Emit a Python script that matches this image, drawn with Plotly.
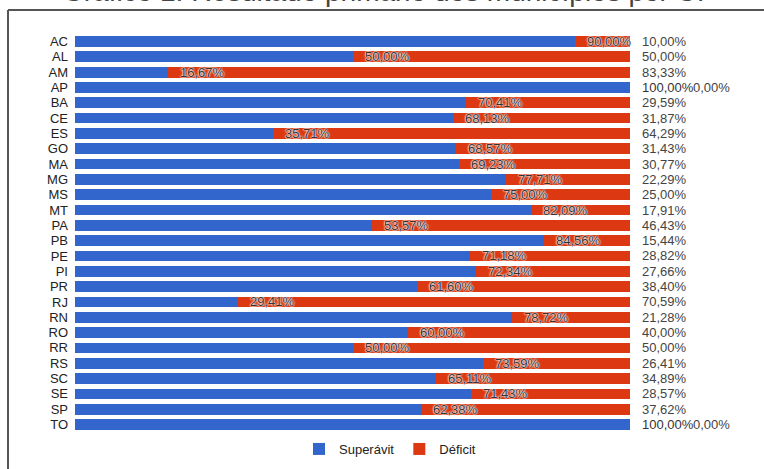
import plotly.graph_objects as go

# Resultado primário por UF: participação de municípios com superávit e déficit (%)
ufs = ["AC", "AL", "AM", "AP", "BA", "CE", "ES", "GO", "MA", "MG", "MS", "MT", "PA",
       "PB", "PE", "PI", "PR", "RJ", "RN", "RO", "RR", "RS", "SC", "SE", "SP", "TO"]
superavit = [90.00, 50.00, 16.67, 100.00, 70.41, 68.13, 35.71, 68.57, 69.23, 77.71, 75.00,
             82.09, 53.57, 84.56, 71.18, 72.34, 61.60, 29.41, 78.72, 60.00, 50.00, 73.59,
             65.11, 71.43, 62.38, 100.00]
deficit = [10.00, 50.00, 83.33, 0.00, 29.59, 31.87, 64.29, 31.43, 30.77, 22.29, 25.00,
           17.91, 46.43, 15.44, 28.82, 27.66, 38.40, 70.59, 21.28, 40.00, 50.00, 26.41,
           34.89, 28.57, 37.62, 0.00]
titulo = "Gráfico 1: Resultado primário dos municípios por UF"

BLUE = "#3366cc"
RED = "#dc3912"
FONT = "Liberation Sans, Arial, sans-serif"


def br(v):
    return f"{v:.2f}".replace(".", ",") + "%"


W, H = 764, 469
ML, MR, MT, MB = 75, 134, 32, 35
plot_w = W - ML - MR
plot_h = H - MT - MB

fig = go.Figure()
fig.add_trace(go.Bar(x=superavit, y=ufs, orientation="h", name="Superávit",
                     marker=dict(color=BLUE, line=dict(width=0)), hoverinfo="skip"))
fig.add_trace(go.Bar(x=deficit, y=ufs, orientation="h", name="Déficit",
                     marker=dict(color=RED, line=dict(width=0)), hoverinfo="skip"))

halo = "0 0 2px #fff, 0 0 2px #fff, 0 0 1px #fff"
ann = []
for uf, s, d in zip(ufs, superavit, deficit):
    # rótulo do superávit logo após o fim da barra azul
    ann.append(dict(x=s, y=uf, xref="x", yref="y", text=br(s), showarrow=False,
                    xanchor="left", yanchor="middle", xshift=10,
                    font=dict(family=FONT, size=13, color="#333", shadow=halo)))
    # rótulo do déficit à direita da barra
    ann.append(dict(x=100, y=uf, xref="x", yref="y", text=br(d), showarrow=False,
                    xanchor="left", yanchor="middle",
                    xshift=10 + (51 if s >= 100 else 0),
                    font=dict(family=FONT, size=13, color="#444")))

# título (parcialmente acima da área visível)
ann.append(dict(x=(388 - ML) / plot_w, y=(plot_h + MT - 9) / plot_h, xref="paper",
                yref="paper", text=titulo, showarrow=False, xanchor="center",
                yanchor="bottom", font=dict(family=FONT, size=28, color="#444")))

# moldura
fx = (8 - ML) / plot_w
fy = (plot_h + MT - 10) / plot_h
shapes = [
    dict(type="line", xref="paper", yref="paper", x0=fx, x1=(W - ML) / plot_w, y0=fy, y1=fy,
         line=dict(color="#555", width=2)),
    dict(type="line", xref="paper", yref="paper", x0=fx, x1=fx, y0=fy, y1=-MB / plot_h,
         line=dict(color="#555", width=2)),
]

fig.update_layout(
    width=W, height=H,
    margin=dict(l=ML, r=MR, t=MT, b=MB, pad=0, autoexpand=False),
    barmode="stack", bargap=0.3,
    paper_bgcolor="white", plot_bgcolor="white",
    font=dict(family=FONT, size=13, color="#222"),
    xaxis=dict(range=[0, 100], visible=False, fixedrange=True),
    yaxis=dict(autorange="reversed", showgrid=False, ticks="", ticklen=0,
               tickmode="array", tickvals=ufs, ticktext=ufs,
               tickfont=dict(size=13, color="#222"), ticklabelstandoff=6),
    legend=dict(orientation="h", x=(390 - ML) / plot_w, xanchor="center", y=0.0,
                yanchor="top", traceorder="normal", font=dict(size=13, color="#222"),
                itemwidth=30),
    annotations=ann, shapes=shapes, showlegend=True,
)

fig.write_html("out.html")
